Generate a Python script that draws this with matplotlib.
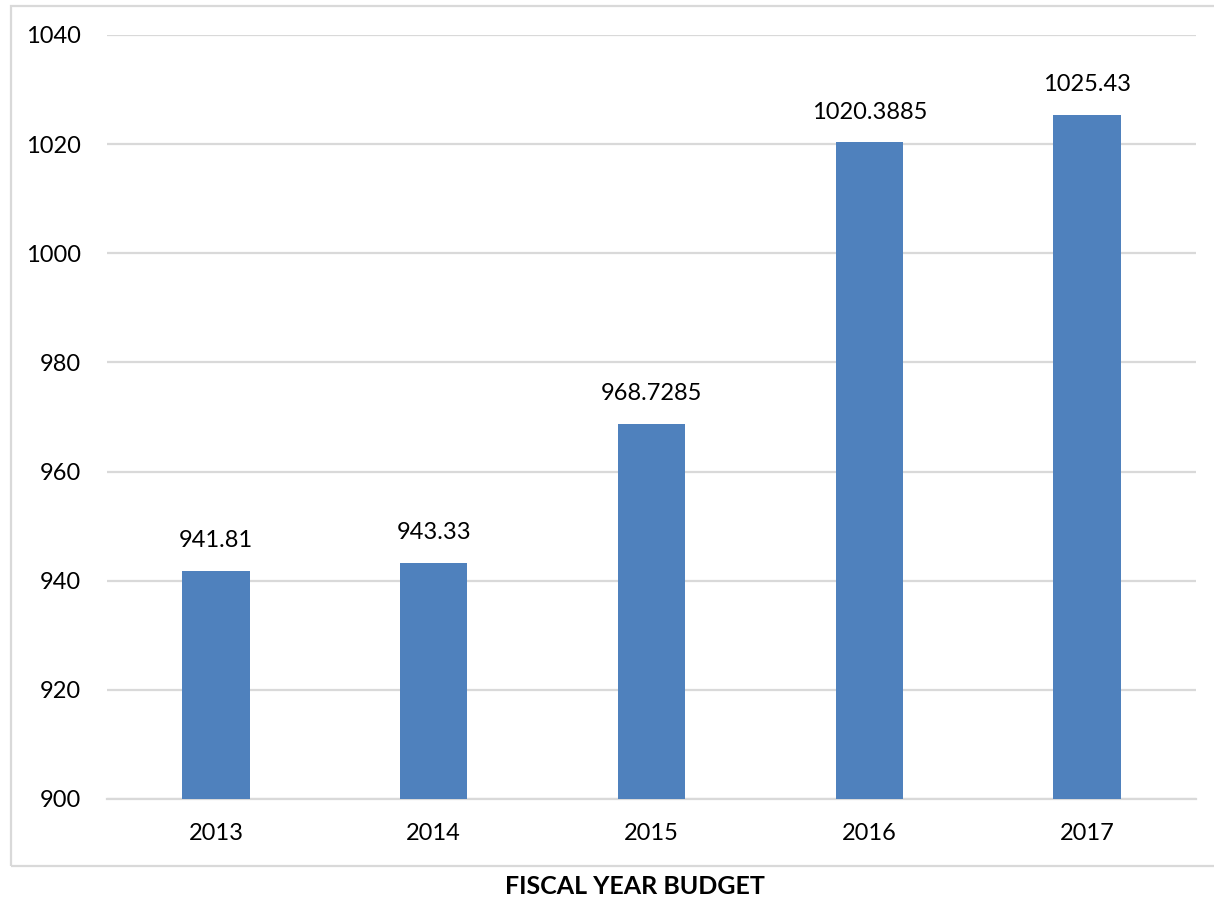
import matplotlib
matplotlib.use("Agg")
import matplotlib.pyplot as plt
from matplotlib.patches import Rectangle

years = ["2013", "2014", "2015", "2016", "2017"]
budget = [941.81, 943.33, 968.7285, 1020.3885, 1025.43]
budget_labels = ["941.81", "943.33", "968.7285", "1020.3885", "1025.43"]
y_ticks = [900, 920, 940, 960, 980, 1000, 1020, 1040]

plt.rcParams["font.family"] = ["Lato", "DejaVu Sans"]

W, H = 1214, 898
fig = plt.figure(figsize=(W / 100, H / 100), dpi=100)
ax = fig.add_axes([107 / W, 1 - 799 / H, (1196 - 107) / W, (799 - 35) / H])

# outer chart frame
fig.patches.append(Rectangle((11 / W, 1 - 866 / H), 1.2, (866 - 6) / H,
                             transform=fig.transFigure, fill=False,
                             edgecolor="#D9D9D9", linewidth=1.6, zorder=0))

x = list(range(len(years)))
ax.bar(x, budget, width=0.31, color="#4F81BD", bottom=0, zorder=3)
ax.set_xlim(-0.5, len(years) - 0.5)
ax.set_ylim(900, 1040)
ax.set_yticks(y_ticks)
ax.set_xticks(x)
ax.set_xticklabels(years)
ax.tick_params(axis="both", length=0, labelsize=17, colors="black")
ax.tick_params(axis="y", pad=19)
ax.tick_params(axis="x", pad=17)
ax.grid(axis="y", color="#D9D9D9", linewidth=1.6, zorder=0)
for s in ["top", "right", "left"]:
    ax.spines[s].set_visible(False)
ax.spines["bottom"].set_color("#D9D9D9")
ax.spines["bottom"].set_linewidth(1.6)

for xi, v, lab in zip(x, budget, budget_labels):
    ax.annotate(lab, (xi, v), xytext=(0, 14), textcoords="offset points",
                ha="center", va="bottom", fontsize=17)

fig.text(635 / W, 1 - 887 / H, "FISCAL YEAR BUDGET", ha="center", va="center",
         fontsize=18, fontweight="bold")

fig.savefig("out.png", dpi=100)
